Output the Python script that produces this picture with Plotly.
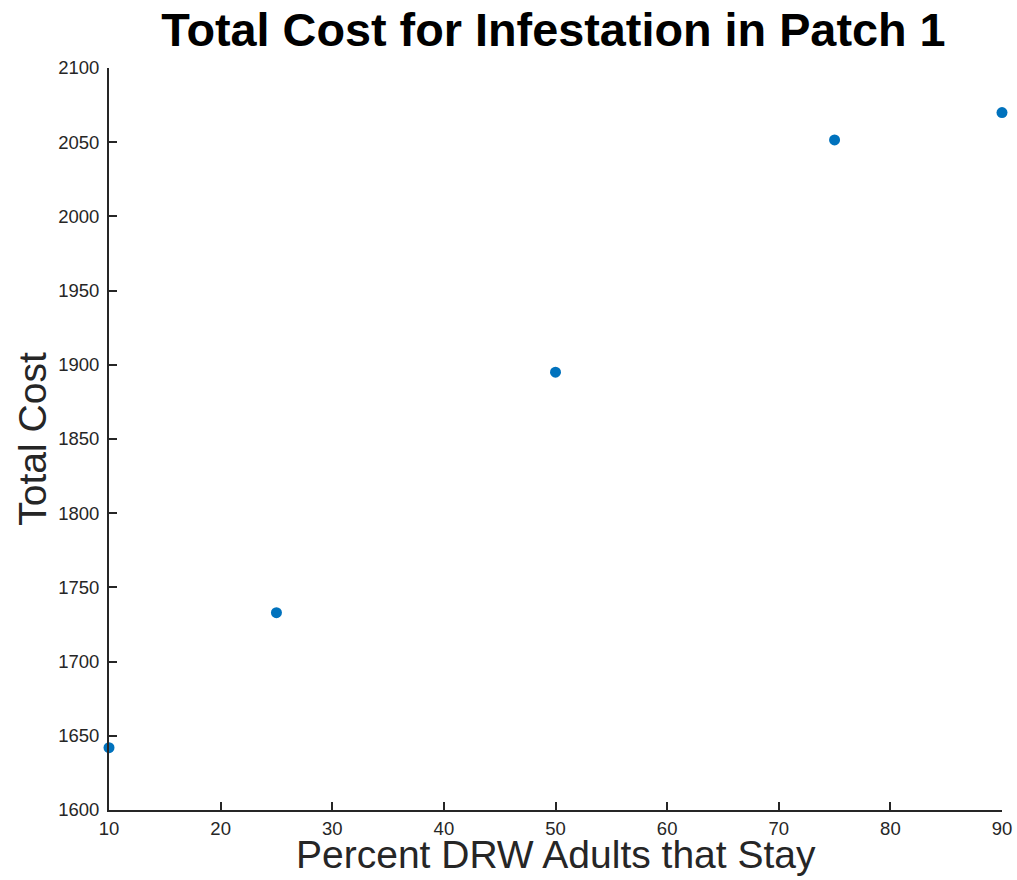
import plotly.graph_objects as go

percent_stay = [10, 25, 50, 75, 90]
total_cost = [1642, 1733, 1895, 2051.5, 2070]

x_ticks = [10, 20, 30, 40, 50, 60, 70, 80, 90]
y_ticks = [1600, 1650, 1700, 1750, 1800, 1850, 1900, 1950, 2000, 2050, 2100]

axis_color = "#262626"
font_family = "Liberation Sans, Arial, Helvetica, sans-serif"

fig = go.Figure()
fig.add_trace(go.Scatter(
    x=percent_stay, y=total_cost, mode="markers",
    marker=dict(color="#0072BD", size=11, symbol="circle", line=dict(width=0)),
    cliponaxis=False, showlegend=False,
))

fig.update_layout(
    width=1017, height=880,
    paper_bgcolor="white", plot_bgcolor="white",
    margin=dict(l=109, r=15, t=68, b=70, autoexpand=False),
    font=dict(family=font_family, color=axis_color),
    title=dict(text="<b>Total Cost for Infestation in Patch 1</b>",
               x=0.5442, xanchor="center", y=0.9664, yanchor="middle",
               font=dict(size=46.8, color="black", family=font_family)),
    xaxis=dict(range=[10, 90], tickvals=x_ticks, ticks="inside", ticklen=8,
               tickwidth=1.5, tickcolor=axis_color, showline=True, linecolor=axis_color,
               linewidth=1.8, showgrid=False, zeroline=False, mirror=False,
               ticklabelstandoff=1, automargin=False, ticklabeloverflow="allow",
               tickfont=dict(size=18.5, color=axis_color)),
    yaxis=dict(range=[1600, 2100], tickvals=y_ticks, ticks="inside", ticklen=8,
               tickwidth=1.5, tickcolor=axis_color, showline=True, linecolor=axis_color,
               linewidth=1.8, showgrid=False, zeroline=False, mirror=False,
               ticklabelstandoff=4, automargin=False,
               tickfont=dict(size=18.5, color=axis_color),
               title=dict(text="Total Cost", standoff=0,
                          font=dict(size=39, color=axis_color))),
    annotations=[dict(text="Percent DRW Adults that Stay", xref="paper", yref="paper",
                      x=0.5, y=0, xanchor="center", yanchor="middle", yshift=-44,
                      showarrow=False, font=dict(size=39, color=axis_color))],
)

fig.write_html(
    "out.html",
    config={"displayModeBar": False},
    post_script="document.body.style.margin='0';document.body.style.overflow='hidden';",
)
